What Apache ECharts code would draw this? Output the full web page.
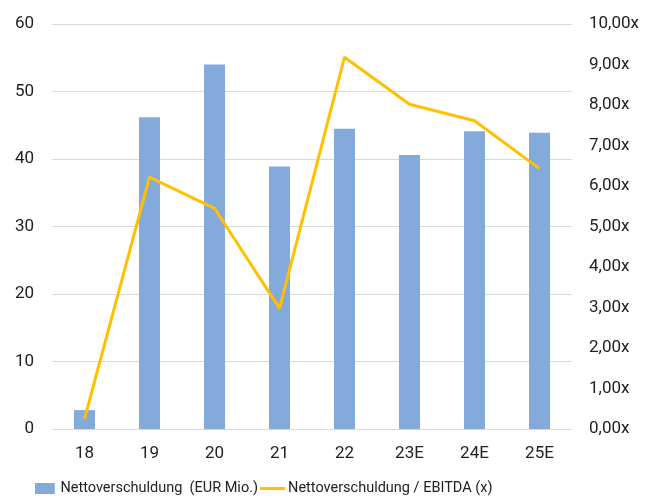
<!DOCTYPE html>
<html>
<head>
<meta charset="utf-8">
<script src="https://cdn.jsdelivr.net/npm/echarts@6/dist/echarts.min.js"></script>
<style>
html,body{margin:0;padding:0;background:#fff;}
#main{width:661px;height:500px;}
</style>
</head>
<body>
<div id="main"></div>
<script>
var years = ['18', '19', '20', '21', '22', '23E', '24E', '25E'];
var nettoVerschuldung = [2.8, 46.2, 54.0, 38.9, 44.5, 40.6, 44.1, 43.9];
var verschuldungEbitda = [0.25, 6.22, 5.45, 2.98, 9.18, 8.02, 7.61, 6.43];

var font = 'Roboto';
var chart = echarts.init(document.getElementById('main'));
chart.setOption({
    animation: false,
    textStyle: {fontFamily: font},
    grid: {left: 52, right: 89, top: 24, bottom: 71},
    legend: {
        top: 476,
        left: 30,
        itemGap: 2,
        itemWidth: 25,
        itemHeight: 11,
        textStyle: {fontFamily: font, fontSize: 14.5, color: '#222', padding: [0, 0, 0, -2]},
        data: [
            {name: 'Nettoverschuldung  (EUR Mio.)', icon: 'path://M0,0H18V10H0Z'},
            {name: 'Nettoverschuldung / EBITDA (x)', icon: 'path://M0,0H25V3H0Z'}
        ]
    },
    xAxis: {
        type: 'category',
        data: years,
        axisTick: {show: false},
        axisLine: {lineStyle: {color: '#d9d9d9', width: 1}},
        axisLabel: {fontSize: 17, color: '#222', margin: 16}
    },
    yAxis: [
        {
            type: 'value',
            min: 0, max: 60, interval: 10,
            axisLabel: {fontSize: 17, color: '#222', margin: 18},
            splitLine: {lineStyle: {color: '#d9d9d9'}}
        },
        {
            type: 'value',
            min: 0, max: 10, interval: 1,
            axisLabel: {
                fontSize: 17, color: '#222', margin: 17,
                formatter: function (v) { return v.toFixed(2).replace('.', ',') + 'x'; }
            },
            splitLine: {show: false}
        }
    ],
    series: [
        {
            name: 'Nettoverschuldung  (EUR Mio.)',
            type: 'bar',
            barWidth: 21,
            data: nettoVerschuldung,
            itemStyle: {color: '#84aadc'}
        },
        {
            name: 'Nettoverschuldung / EBITDA (x)',
            type: 'line',
            yAxisIndex: 1,
            data: verschuldungEbitda,
            symbol: 'none',
            lineStyle: {color: '#ffc000', width: 3},
            itemStyle: {color: '#ffc000'}
        }
    ]
});
</script>
</body>
</html>
